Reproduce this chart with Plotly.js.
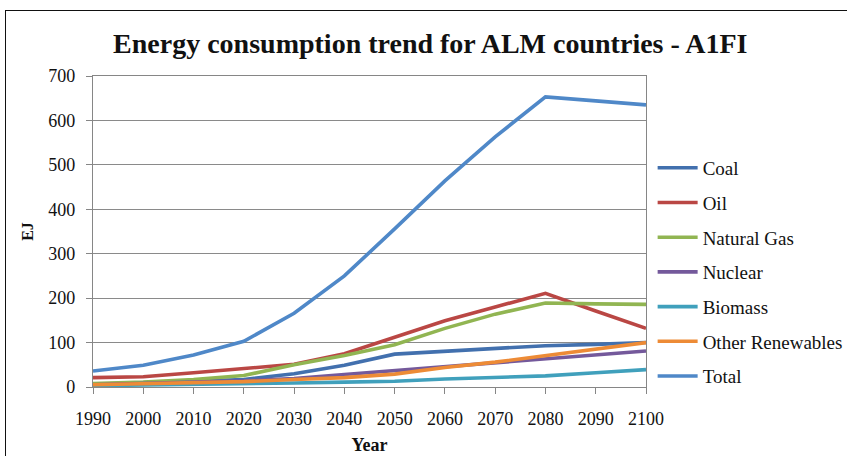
<!DOCTYPE html>
<html>
<head>
<meta charset="utf-8">
<script src="https://cdn.plot.ly/plotly-3.0.1.min.js"></script>
<style>
  html, body { margin: 0; padding: 0; background: #fff; overflow: hidden; }
  #wrap { position: relative; width: 847px; height: 456px; overflow: hidden; }
  #chart { width: 847px; height: 456px; }
  #frame { position: absolute; left: 5px; top: 10px; width: 900px; height: 520px;
           border: 1.5px solid #111; pointer-events: none; }
</style>
</head>
<body>
<div id="wrap">
  <div id="chart"></div>
  <div id="frame"></div>
</div>
<script>
const years = [1990, 2000, 2010, 2020, 2030, 2040, 2050, 2060, 2070, 2080, 2090, 2100];

const coal      = [6, 9, 13, 17, 30, 49, 74, 81, 88, 93, 96, 100];
const oil       = [21, 23, 32, 41, 51, 75, 113, 149, 180, 211, 171, 132];
const naturalGas= [8, 11, 17, 26, 50, 71, 95, 132, 164, 189, 187, 186];
const nuclear   = [5, 7, 11, 14, 19, 28, 37, 47, 55, 65, 74, 81];
const biomass   = [3, 4, 5, 6, 9, 11, 13, 18, 21, 25, 32, 39];
const otherRenew= [5, 7, 9, 12, 17, 21, 29, 44, 56, 71, 85, 100];
const total     = [36, 49, 72, 103, 166, 250, 356, 464, 563, 653, 644, 635];

const seriesNames = ["Coal", "Oil", "Natural Gas", "Nuclear", "Biomass", "Other Renewables", "Total"];
const seriesData = [coal, oil, naturalGas, nuclear, biomass, otherRenew, total];
const seriesColors = ["#4270AE", "#BA4744", "#91B552", "#74599B", "#40A0BC", "#ED8B36", "#4F88C8"];

const serif = "Times New Roman";

const traces = seriesNames.map((name, i) => ({
  x: years,
  y: seriesData[i],
  name: name,
  type: "scatter",
  mode: "lines",
  legendgroup: "g" + i,
  line: { color: seriesColors[i], width: 3.6 }
}));

const layout = {
  width: 847,
  height: 456,
  margin: { l: 93, r: 201, t: 76, b: 69, autoexpand: false },
  paper_bgcolor: "#fff",
  plot_bgcolor: "#fff",
  font: { family: serif, color: "#111" },
  title: {
    text: "<b>Energy consumption trend for ALM countries - A1FI</b>",
    font: { family: serif, size: 28, color: "#111" },
    x: 0.508, xanchor: "center", xref: "container",
    y: 0.905, yanchor: "middle", yref: "container"
  },
  xaxis: {
    range: [1990, 2100],
    tickmode: "array",
    tickvals: years,
    ticktext: years.map(String),
    ticks: "outside",
    ticklen: 6,
    tickcolor: "#868686",
    showline: true,
    linecolor: "#868686",
    linewidth: 1.2,
    mirror: true,
    showgrid: false,
    zeroline: false,
    ticklabelstandoff: 9,
    tickfont: { family: serif, size: 18, color: "#111" },
    title: { text: "<b>Year</b>", font: { family: serif, size: 18, color: "#111" }, standoff: 10 }
  },
  yaxis: {
    range: [0, 700],
    dtick: 100,
    ticks: "outside",
    ticklen: 6,
    tickcolor: "#868686",
    showline: true,
    linecolor: "#868686",
    linewidth: 1.2,
    mirror: true,
    showgrid: true,
    gridcolor: "#8a8a8a",
    gridwidth: 1,
    zeroline: false,
    ticklabelstandoff: 7,
    tickfont: { family: serif, size: 18, color: "#111" },
    title: { text: "<b>EJ</b>", font: { family: serif, size: 16, color: "#111" }, standoff: 10 }
  },
  legend: {
    x: 1.012, xanchor: "left",
    y: 0.37, yanchor: "middle",
    font: { family: serif, size: 19, color: "#111" },
    tracegroupgap: 7,
    itemwidth: 40,
    bgcolor: "rgba(0,0,0,0)"
  },
  showlegend: true
};

Plotly.newPlot("chart", traces, layout, { displayModeBar: false, staticPlot: true });
</script>
</body>
</html>
